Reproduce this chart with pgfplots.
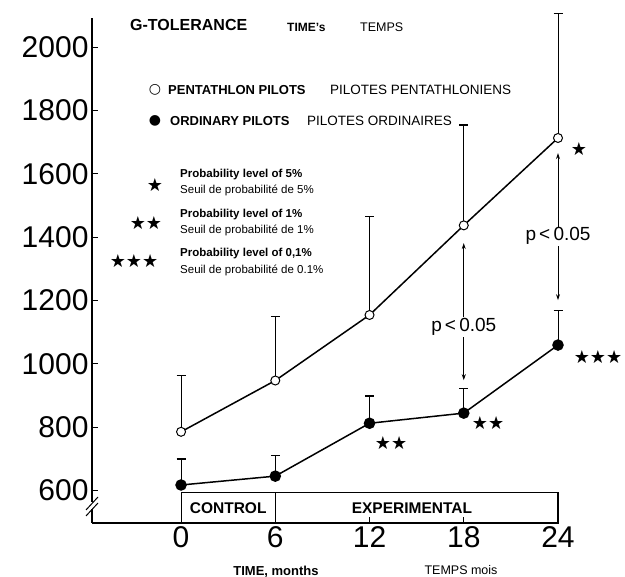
\documentclass[border=0pt]{standalone}
\usepackage{fontspec}
\setmainfont{Liberation Sans}
\newfontfamily\sym{DejaVu Sans}
\usepackage{pgfplots}
\pgfplotsset{compat=1.18}
\usetikzlibrary{arrows.meta}
\begin{document}
\begin{tikzpicture}
\path[use as bounding box] (0pt,0pt) rectangle (625pt,577pt);
\begin{axis}[
  at={(92pt,54pt)}, anchor=south west, scale only axis,
  width=466pt, height=505pt,
  xmin=-5.67, xmax=24, ymin=497, ymax=2092,
  axis lines=left, axis line style={-, line width=1.3pt},
  xtick={0,6,12,18,24}, ytick={600,800,...,2000},
  tick align=inside, major tick length=6pt,
  tick style={line width=1pt, black},
  ticklabel style={font=\fontsize{30}{30}\selectfont},
  /pgf/number format/assume math mode=true,
  /pgf/number format/1000 sep={},
  clip=false,
]
% Pentathlon pilots (open circles)
\addplot[black, line width=1.5pt, mark=*, mark size=4.5pt,
  mark options={fill=white, line width=1pt},
  error bars/.cd, y dir=plus, y explicit,
  error bar style={line width=1pt},
  error mark=-,
  error mark options={rotate=90, line width=1.1pt, mark size=4.5pt}]
coordinates {
 (0,785) +- (0,179)
 (6,947) +- (0,203)
 (12,1154) +- (0,312)
 (18,1437) +- (0,317)
 (24,1713) +- (0,394)
};
% Ordinary pilots (filled circles)
\addplot[black, line width=1.5pt, mark=*, mark size=5pt,
  mark options={fill=black},
  error bars/.cd, y dir=plus, y explicit,
  error bar style={line width=1pt},
  error mark=-,
  error mark options={rotate=90, line width=1.1pt, mark size=4.5pt}]
coordinates {
 (0,617) +- (0,82)
 (6,645) +- (0,66)
 (12,812) +- (0,86)
 (18,844) +- (0,79)
 (24,1059) +- (0,110)
};
% phase box
\draw[line width=1.1pt] (axis cs:0,497) rectangle (axis cs:24,592);
\draw[line width=1.1pt] (axis cs:6,497) -- (axis cs:6,592);
\node[font=\fontsize{15.5}{15.5}\selectfont\bfseries] at (axis cs:3,544) {CONTROL};
\node[font=\fontsize{15.5}{15.5}\selectfont\bfseries] at (axis cs:14.7,544) {EXPERIMENTAL};
% significance arrows
\draw[line width=0.8pt, {Stealth[length=6pt,width=4pt]}-{Stealth[length=6pt,width=4pt]}] (axis cs:18,1381) -- (axis cs:18,948);
\node[fill=white, inner sep=1pt, font=\fontsize{19}{19}\selectfont] at (axis cs:18,1116) {p\,<\,0.05};
\draw[line width=0.8pt, {Stealth[length=6pt,width=4pt]}-{Stealth[length=6pt,width=4pt]}] (axis cs:24,1665) -- (axis cs:24,1201);
\node[fill=white, inner sep=1pt, font=\fontsize{19}{19}\selectfont] at (axis cs:24,1403) {p\,<\,0.05};
% stars
\node[font=\sym\fontsize{18}{18}\selectfont] at (axis cs:25.34,1678) {★};
\node[font=\sym\fontsize{18}{18}\selectfont] at (axis cs:13.37,749) {★★};
\node[font=\sym\fontsize{18}{18}\selectfont] at (axis cs:19.55,812) {★★};
\node[font=\sym\fontsize{18}{18}\selectfont] at (axis cs:26.55,1021) {★★★};
\end{axis}
% axis break
\fill[white] (88pt,68pt) rectangle (96pt,75pt);
\draw[line width=1pt] (86pt,67pt) -- (98pt,80pt);
\draw[line width=1pt] (86pt,61pt) -- (98pt,74pt);
% titles and legend
\node[anchor=west, inner sep=0pt, font=\fontsize{16}{16}\selectfont\bfseries] at (130pt,552pt) {G-TOLERANCE};
\node[anchor=west, inner sep=0pt, font=\fontsize{12}{12}\selectfont\bfseries] at (287pt,550pt) {TIME's};
\node[anchor=west, inner sep=0pt, font=\fontsize{12.5}{12.5}\selectfont] at (360pt,550pt) {TEMPS};
\node[inner sep=0pt, font=\sym\fontsize{14}{14}\selectfont] at (155pt,487pt) {○};
\node[anchor=west, inner sep=0pt, font=\fontsize{13}{13}\selectfont\bfseries] at (168pt,487pt) {PENTATHLON PILOTS};
\node[anchor=west, inner sep=0pt, font=\fontsize{13.5}{13.5}\selectfont] at (330pt,487pt) {PILOTES PENTATHLONIENS};
\node[inner sep=0pt, font=\sym\fontsize{14}{14}\selectfont] at (155pt,456pt) {●};
\node[anchor=west, inner sep=0pt, font=\fontsize{13}{13}\selectfont\bfseries] at (170pt,456pt) {ORDINARY PILOTS};
\node[anchor=west, inner sep=0pt, font=\fontsize{13.5}{13.5}\selectfont] at (307pt,456pt) {PILOTES ORDINAIRES};
\node[inner sep=0pt, font=\sym\fontsize{18}{18}\selectfont] at (155pt,392pt) {★};
\node[anchor=west, inner sep=0pt, font=\fontsize{11.5}{11.5}\selectfont\bfseries] at (180pt,402pt) {Probability level of 5\%};
\node[anchor=west, inner sep=0pt, font=\fontsize{11.5}{11.5}\selectfont] at (180pt,387pt) {Seuil de probabilité de 5\%};
\node[inner sep=0pt, font=\sym\fontsize{18}{18}\selectfont] at (146pt,354pt) {★★};
\node[anchor=west, inner sep=0pt, font=\fontsize{11.5}{11.5}\selectfont\bfseries] at (180pt,362pt) {Probability level of 1\%};
\node[anchor=west, inner sep=0pt, font=\fontsize{11.5}{11.5}\selectfont] at (180pt,347pt) {Seuil de probabilité de 1\%};
\node[inner sep=0pt, font=\sym\fontsize{18}{18}\selectfont] at (134pt,316pt) {★★★};
\node[anchor=west, inner sep=0pt, font=\fontsize{11.5}{11.5}\selectfont\bfseries] at (180pt,323pt) {Probability level of 0,1\%};
\node[anchor=west, inner sep=0pt, font=\fontsize{11.5}{11.5}\selectfont] at (180pt,307pt) {Seuil de probabilité de 0.1\%};
\node[inner sep=0pt, font=\fontsize{13}{13}\selectfont\bfseries] at (276pt,5pt) {TIME, months};
\node[inner sep=0pt, font=\fontsize{12.5}{12.5}\selectfont] at (461pt,7pt) {TEMPS mois};
\end{tikzpicture}
\end{document}
